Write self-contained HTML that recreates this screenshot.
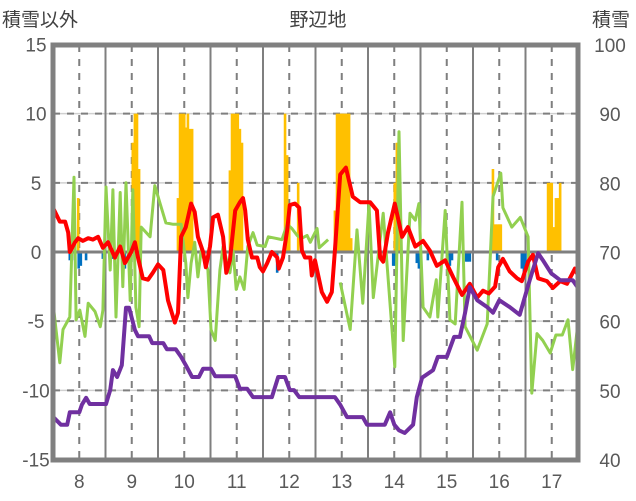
<!DOCTYPE html>
<html><head><meta charset="utf-8"><style>
body{margin:0;background:#fff;}
svg{display:block;font-family:"Liberation Sans","Noto Sans CJK JP",sans-serif;}
</style></head><body>
<svg id="c" width="636" height="501"></svg>
<script>
const dayTicks=[8,9,10,11,12,13,14,15,16,17];
const leftTicks=[15,10,5,0,-5,-10,-15];
const rightTicks=[100,90,80,70,60,50,40];
const redT=[7.5,7.63,7.73,7.79,7.82,7.92,7.98,8.07,8.17,8.26,8.36,8.45,8.55,8.68,8.78,8.87,8.99,9.06,9.12,9.21,9.31,9.4,9.5,9.6,9.69,9.82,9.88,9.94,10.03,10.13,10.2,10.26,10.36,10.41,10.49,10.55,10.64,10.74,10.8,10.87,10.97,11.06,11.12,11.16,11.21,11.29,11.39,11.44,11.5,11.58,11.67,11.77,11.8,11.88,11.96,12.01,12.11,12.19,12.24,12.3,12.4,12.43,12.49,12.62,12.72,12.81,12.87,12.97,13.08,13.21,13.35,13.54,13.67,13.73,13.79,13.88,14.01,14.15,14.26,14.4,14.55,14.68,14.81,14.97,15.12,15.29,15.44,15.58,15.69,15.8,15.92,15.98,16.07,16.2,16.34,16.43,16.55,16.64,16.74,16.91,17.02,17.16,17.29,17.44,17.5];
const redV=[3.2,2.2,2.2,1.4,0,0.7,1.0,0.8,1.0,0.9,1.1,0.3,0.7,-0.4,0.4,-0.8,0,0.7,-0.4,-1.9,-2.0,-1.5,-0.9,-1.3,-3.5,-5.1,-4.4,1.1,1.8,3.5,2.9,1.1,0,-1.1,0.4,2.5,2.7,1.1,-1.5,-0.6,3.0,3.6,3.9,3.0,0.9,-0.4,-0.4,-1.1,-1.4,-0.8,0,-0.4,-1.2,-0.4,1.6,3.4,3.5,3.2,0.1,-0.4,-0.4,-1.7,-0.6,-2.9,-3.6,-2.9,0.1,5.6,6.1,4.0,3.6,3.6,3.0,-0.4,-0.7,1.4,3.5,1.1,1.8,0.4,0.8,0.1,-1.0,-0.6,-1.8,-3.1,-2.3,-3.3,-2.8,-3.0,-2.5,-1.1,-0.5,-1.4,-1.9,-2.1,-0.7,-0.2,-1.9,-2.1,-2.6,-2.1,-2.3,-1.2,-1.7];
const greenT=[7.5,7.63,7.69,7.82,7.9,7.94,8.01,8.11,8.17,8.3,8.4,8.45,8.51,8.59,8.64,8.7,8.78,8.83,8.89,8.97,9.02,9.08,9.14,9.18,9.35,9.44,9.54,9.65,9.79,9.94,10.03,10.07,10.13,10.2,10.26,10.32,10.45,10.51,10.59,10.68,10.74,10.87,10.93,10.99,11.06,11.14,11.21,11.31,11.39,11.54,11.6,11.73,11.86,11.96,12.05,12.15,12.24,12.34,12.4,12.45,12.53,12.57,12.74,12.85,12.97,13.16,13.29,13.4,13.52,13.6,13.79,14.01,14.09,14.17,14.3,14.4,14.47,14.55,14.68,14.8,14.83,14.97,15.06,15.16,15.29,15.35,15.58,15.77,15.88,16.03,16.07,16.24,16.4,16.55,16.62,16.72,16.83,16.97,17.08,17.2,17.31,17.4,17.5];
const greenV=[-3.7,-8.0,-5.6,-4.7,5.4,-4.9,-4.2,-6.1,-3.7,-4.3,-5.4,-4.2,4.7,-1.3,4.5,-4.7,4.3,-2.5,5.0,-3.5,4.5,-4.0,-5.4,1.8,1.1,4.8,3.5,2.1,2.0,2.0,-0.8,-3.3,-0.8,0.7,-1.8,0.1,-1.3,-5.6,-6.4,-1.3,0.4,-1.5,0.1,-2.7,-1.8,-2.7,0.4,1.4,0.5,0.4,1.1,1.0,0.9,2.0,1.7,1.2,1.0,1.2,0.7,1.1,1.7,0.3,0.9,null,-2.2,-5.6,1.6,-3.7,3.5,-3.3,2.8,-8.3,8.7,-6.4,2.8,2.3,3.5,-4.0,-4.7,-2.0,-4.7,3.0,-4.9,-5.2,3.6,-5.4,-7.1,-5.2,4.0,5.7,3.2,1.8,2.5,1.1,-10.2,-5.9,-6.4,-7.3,-6.0,-6.0,-4.9,-8.5,-5.1];
const purpleT=[7.52,7.65,7.77,7.82,8.0,8.05,8.13,8.2,8.51,8.59,8.64,8.72,8.81,8.89,8.95,9.06,9.12,9.33,9.39,9.6,9.67,9.84,9.94,10.03,10.15,10.28,10.36,10.51,10.59,10.97,11.06,11.2,11.31,11.67,11.79,11.92,12.01,12.09,12.19,12.87,12.97,13.1,13.4,13.48,13.82,13.92,14.0,14.09,14.2,14.36,14.43,14.53,14.74,14.83,15.0,15.14,15.25,15.35,15.44,15.58,15.77,15.88,16.0,16.2,16.39,16.58,16.74,16.83,16.99,17.16,17.4,17.5];
const purpleV=[46.1,45.1,45.1,46.9,46.9,48.0,49.0,48.1,48.1,50.1,53.0,52.0,53.7,62.0,62.0,58.8,57.9,57.9,56.9,56.9,56.0,56.0,54.9,53.7,52.0,52.0,53.2,53.2,52.1,52.1,50.3,50.3,49.1,49.1,52.0,52.0,50.1,50.1,49.1,49.1,48.0,46.2,46.2,45.1,45.1,46.9,45.1,44.3,43.9,45.1,49.1,51.9,53.0,54.9,54.9,57.8,57.8,61.3,65.0,63.1,62.1,61.3,63.1,62.1,61.0,66.0,69.9,68.9,67.0,66.0,66.0,64.9];
const yellowT=[7.98,9.02,9.06,9.1,9.14,9.88,9.92,9.96,10.0,10.03,10.07,10.11,10.15,10.87,10.91,10.95,10.99,11.02,11.06,11.1,11.92,11.96,12.0,12.17,12.87,12.91,12.95,12.99,13.02,13.06,13.1,13.14,13.18,14.01,14.05,14.09,15.88,15.92,15.96,16.0,16.03,16.93,16.97,17.0,17.04,17.08,17.12,17.16];
const yellowV=[3.9,7.9,10,10,6,3.9,10,10,10,9,10,8.9,8.9,5.9,10,10,10,10,8.9,7.9,10,7,3,5,3,10,10,10,10,10,10,10,1,5,7.9,5,6,2,2,2,2,5,5,5,1.8,3.9,3.9,5];
const blueT=[7.82,7.86,7.99,8.03,8.13,8.45,8.64,8.87,11.77,13.98,14.01,14.43,14.47,14.51,14.64,15.02,15.06,15.1,15.37,15.4,15.44,15.96,16.43,16.47,16.5];
const blueV=[-0.6,-0.6,-1.2,-1.0,-0.6,-0.5,-0.5,-1.2,-1.5,-1.0,-1.0,-0.8,-1.2,-0.8,-0.6,-1.0,-1.0,-0.6,-0.7,-0.7,-0.7,-0.6,-1.2,-1.6,-1.2];

const L=53,R=578,T=45,B=460;
const X=t=>L+(t-7.5)*52.5;
const YL=v=>252-v*(B-T)/30;
const YR=s=>B-(s-40)*(B-T)/60;
const svg=document.getElementById('c');
const NS='http://www.w3.org/2000/svg';
function mk(tag,a,p){const e=document.createElementNS(NS,tag);for(const k in a)e.setAttribute(k,a[k]);(p||svg).appendChild(e);return e;}

leftTicks.forEach(v=>{if(v===15||v===-15||v===0)return;
 const g=mk('line',{x1:L,x2:R,y1:YL(v),y2:YL(v),stroke:'#d0d0d0','stroke-width':1.5});
 
 const d=mk('line',{x1:L,x2:R,y1:YL(v),y2:YL(v),stroke:'#7f7f7f','stroke-width':2,'stroke-dasharray':'7,7'});
 });
dayTicks.forEach(d=>{
 const a=mk('line',{x1:X(d),x2:X(d),y1:T,y2:B,stroke:'#7f7f7f','stroke-width':2,'stroke-dasharray':'7,7'});
 
 if(d<17){const b=mk('line',{x1:X(d+0.5),x2:X(d+0.5),y1:T,y2:B,stroke:'#7f7f7f','stroke-width':2});
 }
});
yellowT.forEach((t,i)=>{const y=YL(yellowV[i]);
 const r=mk('rect',{x:X(t)-1.3,y:y,width:2.6,height:YL(0)-y,fill:'#ffc000'});
 });
blueT.forEach((t,i)=>{
 const r=mk('rect',{x:X(t)-1.3,y:YL(0),width:2.6,height:YL(blueV[i])-YL(0),fill:'#0070c0'});
 });
const z=mk('line',{x1:L,x2:R,y1:YL(0),y2:YL(0),stroke:'#7f7f7f','stroke-width':3});

function path(ts,vs,f){let d='',pen=false;ts.forEach((t,i)=>{if(vs[i]==null){pen=false;return;}d+=(pen?'L':'M')+X(t).toFixed(1)+','+f(vs[i]).toFixed(1);pen=true;});return d;}
const gl=mk('path',{d:path(greenT,greenV,YL),fill:'none',stroke:'#92d050','stroke-width':3,'stroke-linejoin':'round'});

const rl=mk('path',{d:path(redT,redV,YL),fill:'none',stroke:'#ff0000','stroke-width':4,'stroke-linejoin':'round'});

const pl=mk('path',{d:path(purpleT,purpleV,YR),fill:'none',stroke:'#7030a0','stroke-width':4,'stroke-linejoin':'round'});

const bd=mk('rect',{x:L,y:T,width:R-L,height:B-T,fill:'none',stroke:'#808080','stroke-width':5});

leftTicks.forEach(v=>{const t=mk('text',{x:36,y:YL(v)+7,'text-anchor':'middle','font-size':19,fill:'#595959'});t.textContent=v;
 });
rightTicks.forEach(v=>{const t=mk('text',{x:610,y:YR(v)+7,'text-anchor':'middle','font-size':19,fill:'#595959'});t.textContent=v;
 });
dayTicks.forEach(d=>{const t=mk('text',{x:X(d),y:488,'text-anchor':'middle','font-size':19,fill:'#595959'});t.textContent=d;
 });
const t1=mk('text',{x:318,y:26,'text-anchor':'middle','font-size':19,fill:'#404040'});t1.textContent='野辺地';

const t2=mk('text',{x:2,y:26,'font-size':19,fill:'#404040'});t2.textContent='積雪以外';

const t3=mk('text',{x:592,y:26,'font-size':19,fill:'#404040'});t3.textContent='積雪';

</script>
</body></html>
